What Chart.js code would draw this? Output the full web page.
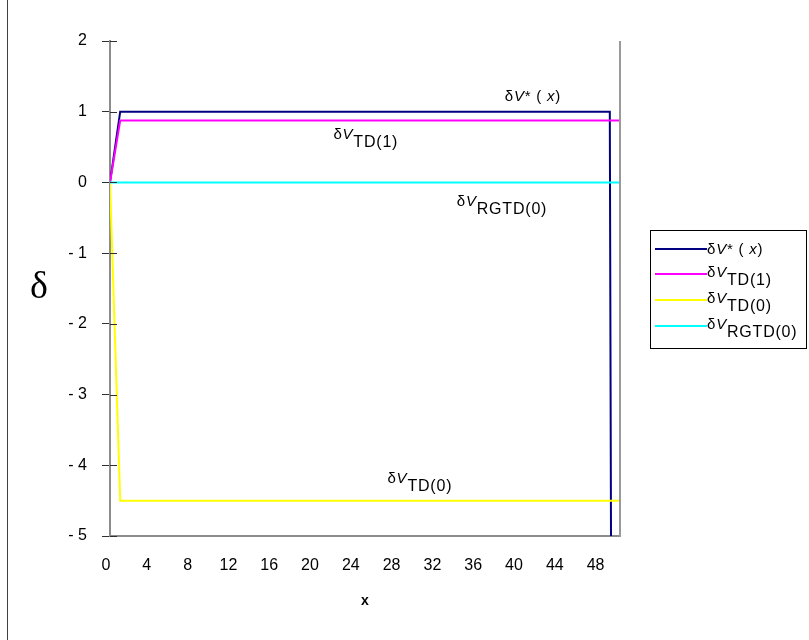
<!DOCTYPE html>
<html>
<head>
<meta charset="utf-8">
<script src="https://cdn.jsdelivr.net/npm/chart.js@4"></script>
<style>
  html, body { margin: 0; padding: 0; background: #fff; }
  #wrap { position: relative; width: 809px; height: 640px; }
</style>
</head>
<body>
<div id="wrap"><canvas id="c" width="809" height="640"></canvas></div>
<script>
// x positions (0 … 50)
const xValues = [0,1,2,3,4,5,6,7,8,9,10,11,12,13,14,15,16,17,18,19,20,21,22,23,24,25,26,27,28,29,30,31,32,33,34,35,36,37,38,39,40,41,42,43,44,45,46,47,48,49,50];

// δV*(x): rises to 1, drops steeply at the last point
const vStar = [0,1,1,1,1,1,1,1,1,1,1,1,1,1,1,1,1,1,1,1,1,1,1,1,1,1,1,1,1,1,1,1,1,1,1,1,1,1,1,1,1,1,1,1,1,1,1,1,1,1,-50];
// δV TD(1)
const vTD1 = [0,0.875,0.875,0.875,0.875,0.875,0.875,0.875,0.875,0.875,0.875,0.875,0.875,0.875,0.875,0.875,0.875,0.875,0.875,0.875,0.875,0.875,0.875,0.875,0.875,0.875,0.875,0.875,0.875,0.875,0.875,0.875,0.875,0.875,0.875,0.875,0.875,0.875,0.875,0.875,0.875,0.875,0.875,0.875,0.875,0.875,0.875,0.875,0.875,0.875,0.875];
// δV TD(0)
const vTD0 = [0,-4.5,-4.5,-4.5,-4.5,-4.5,-4.5,-4.5,-4.5,-4.5,-4.5,-4.5,-4.5,-4.5,-4.5,-4.5,-4.5,-4.5,-4.5,-4.5,-4.5,-4.5,-4.5,-4.5,-4.5,-4.5,-4.5,-4.5,-4.5,-4.5,-4.5,-4.5,-4.5,-4.5,-4.5,-4.5,-4.5,-4.5,-4.5,-4.5,-4.5,-4.5,-4.5,-4.5,-4.5,-4.5,-4.5,-4.5,-4.5,-4.5,-4.5];
// δV RGTD(0)
const vRGTD0 = [0,0,0,0,0,0,0,0,0,0,0,0,0,0,0,0,0,0,0,0,0,0,0,0,0,0,0,0,0,0,0,0,0,0,0,0,0,0,0,0,0,0,0,0,0,0,0,0,0,0,0];

// axis ticks
const yTicks = [2, 1, 0, -1, -2, -3, -4, -5];
const xTicks = [0, 4, 8, 12, 16, 20, 24, 28, 32, 36, 40, 44, 48];

// series names: base symbol + subscript
const seriesNames = [
  { label: 'δV*(x)',     sub: null },
  { label: 'δV TD(1)',   sub: 'TD(1)' },
  { label: 'δV TD(0)',   sub: 'TD(0)' },
  { label: 'δV RGTD(0)', sub: 'RGTD(0)' }
];
const seriesValues = [vStar, vTD1, vTD0, vRGTD0];
const seriesColors = ['#000080', '#FF00FF', '#FFFF00', '#00FFFF'];

const SANS = '"Liberation Sans", Arial, sans-serif';
const mainFont = '15px ' + SANS;
const italFont = 'italic 15px ' + SANS;
const subFont = '16px ' + SANS;

function nameRuns(i) {
  const s = seriesNames[i];
  if (!s.sub) {
    return [
      { t: 'δ', font: mainFont }, { t: 'V', font: italFont },
      { t: '* ( ', font: mainFont }, { t: 'x', font: italFont }, { t: ')', font: mainFont }
    ];
  }
  return [
    { t: 'δ', font: mainFont }, { t: 'V', font: italFont },
    { t: s.sub, font: subFont, dy: 8 }
  ];
}

function drawRich(ctx, x, y, runs) {
  ctx.save();
  ctx.textBaseline = 'alphabetic';
  ctx.textAlign = 'left';
  ctx.fillStyle = '#000';
  if ('letterSpacing' in ctx) ctx.letterSpacing = '0.8px';
  let cx = x;
  for (const r of runs) {
    ctx.font = r.font;
    ctx.fillText(r.t, cx, y + (r.dy || 0));
    cx += ctx.measureText(r.t).width;
  }
  ctx.restore();
}

// in-plot labels, anchored in data space: [series index, x, y]
const seriesLabelAnchors = [
  [0, 38.7, 1.15],
  [1, 21.9, 0.61],
  [3, 34.0, -0.34],
  [2, 27.2, -4.25]
];

const decorations = {
  id: 'decorations',
  afterDraw(chart) {
    const ctx = chart.ctx;
    const area = chart.chartArea;
    const xs = chart.scales.x, ys = chart.scales.y;

    // outer frame edge on the left
    ctx.save();
    ctx.strokeStyle = '#404040';
    ctx.lineWidth = 1;
    ctx.beginPath();
    ctx.moveTo(7.5, 0); ctx.lineTo(7.5, 640);
    ctx.stroke();

    // right edge of the plot area
    ctx.strokeStyle = '#9a9a9a';
    ctx.lineWidth = 2;
    ctx.beginPath();
    ctx.moveTo(area.right, area.top); ctx.lineTo(area.right, area.bottom + 1);
    ctx.stroke();

    // inner halves of the crossing y tick marks
    ctx.strokeStyle = '#303030';
    ctx.lineWidth = 1;
    for (const v of yTicks) {
      const py = Math.round(ys.getPixelForValue(v)) + 0.5;
      ctx.beginPath();
      ctx.moveTo(area.left, py); ctx.lineTo(area.left + 7, py);
      ctx.stroke();
    }

    // y axis title
    ctx.fillStyle = '#000';
    ctx.font = '38px "Liberation Serif", "Times New Roman", serif';
    ctx.textAlign = 'center';
    ctx.textBaseline = 'middle';
    ctx.fillText('δ', 39, (area.top + area.bottom) / 2);
    ctx.restore();

    // series labels inside the plot
    for (const [i, vx, vy] of seriesLabelAnchors) {
      drawRich(ctx, xs.getPixelForValue(vx), ys.getPixelForValue(vy), nameRuns(i));
    }

    // legend box
    ctx.save();
    ctx.strokeStyle = '#000';
    ctx.lineWidth = 1;
    ctx.strokeRect(650.5, 230.5, 156, 118);
    const rowY = [249, 274, 300, 326];
    for (let i = 0; i < seriesNames.length; i++) {
      ctx.strokeStyle = seriesColors[i];
      ctx.lineWidth = 2;
      ctx.beginPath();
      ctx.moveTo(655, rowY[i]); ctx.lineTo(707, rowY[i]);
      ctx.stroke();
      drawRich(ctx, 707, rowY[i] + (seriesNames[i].sub ? 3 : 5), nameRuns(i));
    }
    ctx.restore();
  }
};

const datasets = seriesValues.map((vals, i) => ({
  label: seriesNames[i].label,
  data: xValues.map((x, k) => ({ x: x, y: vals[k] })),
  borderColor: seriesColors[i],
  backgroundColor: seriesColors[i],
  borderWidth: 2,
  pointRadius: 0,
  tension: 0,
  fill: false,
  order: seriesValues.length - 1 - i
}));

new Chart(document.getElementById('c'), {
  type: 'line',
  data: { datasets },
  options: {
    responsive: false,
    animation: false,
    devicePixelRatio: 1,
    layout: { padding: { left: 0, right: 189, top: 41, bottom: 0 } },
    plugins: { legend: { display: false }, tooltip: { enabled: false } },
    scales: {
      x: {
        type: 'linear',
        min: 0,
        max: 50,
        afterBuildTicks: s => { s.ticks = xTicks.map(v => ({ value: v })); },
        afterFit: s => { s.height = 104; },
        grid: { display: false, drawTicks: false },
        border: { display: true, color: '#8c8c8c', width: 2 },
        ticks: {
          padding: 20,
          labelOffset: -4,
          maxRotation: 0,
          color: '#000',
          font: { family: SANS, size: 16 }
        },
        title: {
          display: true,
          text: 'x',
          color: '#000',
          font: { family: SANS, size: 14, weight: 'bold' },
          padding: { top: 0, bottom: 30 }
        }
      },
      y: {
        type: 'linear',
        min: -5,
        max: 2,
        afterBuildTicks: s => { s.ticks = yTicks.map(v => ({ value: v })); },
        afterFit: s => { s.width = 110; },
        grid: { drawOnChartArea: false, drawTicks: true, tickLength: 8, tickColor: '#303030', tickWidth: 1 },
        border: { display: true, color: '#8c8c8c', width: 2 },
        ticks: {
          padding: 15,
          color: '#000',
          font: { family: SANS, size: 16 },
          callback: v => (v < 0 ? '- ' + Math.abs(v) : String(v))
        }
      }
    }
  },
  plugins: [decorations]
});
</script>
</body>
</html>
